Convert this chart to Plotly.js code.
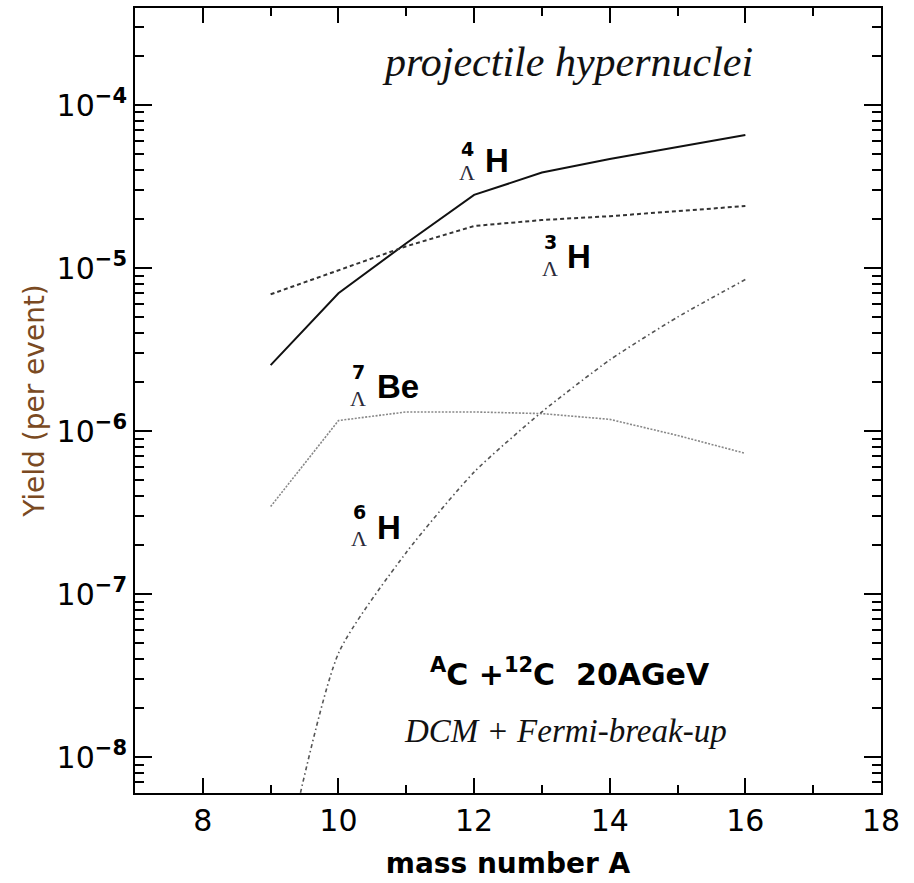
<!DOCTYPE html>
<html>
<head>
<meta charset="utf-8">
<script src="https://cdn.plot.ly/plotly-3.0.1.min.js"></script>
<style>html,body{margin:0;padding:0;background:#fff;}#chart{width:914px;height:883px;}</style>
</head>
<body>
<div id="chart"></div>
<script>
// ---- data ----
const massA = [9, 10, 11, 12, 13, 14, 15, 16];
const yield4LH = [2.54e-6, 7.0e-6, 1.42e-5, 2.81e-5, 3.85e-5, 4.67e-5, 5.52e-5, 6.55e-5];
const yield3LH = [6.9e-6, 9.7e-6, 1.36e-5, 1.81e-5, 1.97e-5, 2.08e-5, 2.24e-5, 2.40e-5];
const yield7LBe = [3.44e-7, 1.16e-6, 1.31e-6, 1.31e-6, 1.28e-6, 1.18e-6, 9.4e-7, 7.3e-7];
const yield6LH = [9.0e-10, 4.33e-8, 1.8e-7, 5.6e-7, 1.31e-6, 2.73e-6, 5.0e-6, 8.5e-6];

const xTickVals = [8, 10, 12, 14, 16, 18];
const xMinorVals = [9, 11, 13, 15, 17];
const yTickVals = [1e-8, 1e-7, 1e-6, 1e-5, 1e-4];
const yTickText = ['10<sup><b>−8</b></sup>', '10<sup><b>−7</b></sup>', '10<sup><b>−6</b></sup>', '10<sup><b>−5</b></sup>', '10<sup><b>−4</b></sup>'];

// minor ticks 2..9 x 10^n
const yMinorVals = [];
for (let e = -9; e <= -4; e++) for (let m = 2; m <= 9; m++) yMinorVals.push(m * Math.pow(10, e));

// ---- layout helpers (pixel -> paper) ----
const L = 135, R = 881, T = 8, B = 793;
const px = x => (x - L) / (R - L);
const py = y => (B - y) / (B - T);

const sans = 'DejaVu Sans, Arial, sans-serif';
const arial = 'Liberation Sans, Arial, sans-serif';
const serif = 'Liberation Serif, Times New Roman, serif';

const traces = [
  {x: massA, y: yield4LH, mode: 'lines', name: '4ΛH', line: {color: '#111', width: 2, dash: 'solid'}},
  {x: massA, y: yield3LH, mode: 'lines', name: '3ΛH', line: {color: '#333', width: 2, dash: '4px,3px'}},
  {x: massA, y: yield7LBe, mode: 'lines', name: '7ΛBe', line: {color: '#888', width: 1.6, dash: '2px,1.5px'}},
  {x: massA, y: yield6LH, mode: 'lines', name: '6ΛH', line: {color: '#555', width: 1.6, dash: '4px,3px,1.5px,3px', shape: 'spline', smoothing: 0.6}}
];

function label(text, x, y, font, opts) {
  return Object.assign({
    text: text, xref: 'paper', yref: 'paper', x: px(x), y: py(y),
    xanchor: 'center', yanchor: 'middle', showarrow: false, font: font
  }, opts || {});
}
const lam = (x, y) => label('Λ', x, y, {family: serif, size: 22, color: '#2a2a3a'});
const sup = (t, x, y) => label('<b>' + t + '</b>', x, y, {family: sans, size: 19, color: '#000'});
const big = (t, x, y) => label('<b>' + t + '</b>', x, y, {family: arial, size: 33, color: '#000'});

const annotations = [
  label('<i>projectile hypernuclei</i>', 567, 62, {family: serif, size: 42, color: '#111'}),
  sup('4', 467, 149), lam(467, 173), big('H', 497, 161),
  sup('3', 550, 242), lam(550, 268), big('H', 579, 256),
  sup('7', 358, 372), lam(358, 398), big('Be', 398, 386),
  sup('6', 359, 512), lam(359, 538), big('H', 389, 527),
  label('<b><sup>A</sup>C +<sup>12</sup>C  20AGeV</b>', 570, 672, {family: sans, size: 30, color: '#000'}),
  label('<i>DCM + Fermi-break-up</i>', 565, 731, {family: serif, size: 33, color: '#111'})
];

const axisCommon = {
  showline: true, linecolor: '#000', linewidth: 2, mirror: 'allticks',
  ticks: 'inside', tickcolor: '#000', tickwidth: 2,
  showgrid: false, zeroline: false,
  tickfont: {family: sans, size: 30, color: '#000'}
};

const layout = {
  width: 914, height: 883,
  margin: {l: L, r: 914 - R, t: T, b: 883 - B},
  paper_bgcolor: '#fff', plot_bgcolor: '#fff',
  showlegend: false,
  xaxis: Object.assign({}, axisCommon, {
    range: [7, 18], tickmode: 'array', tickvals: xTickVals, ticklen: 15,
    minor: {tickmode: 'array', tickvals: xMinorVals, ticks: 'inside', ticklen: 8, tickwidth: 2, tickcolor: '#000', showgrid: false},
    title: {text: '<b>mass number A</b>', font: {family: sans, size: 28, color: '#000'}, standoff: 16}
  }),
  yaxis: Object.assign({}, axisCommon, {
    type: 'log', range: [-8.22, -3.405], tickmode: 'array', tickvals: yTickVals, ticktext: yTickText, ticklen: 17,
    minor: {tickmode: 'array', tickvals: yMinorVals, ticks: 'inside', ticklen: 9, tickwidth: 2, tickcolor: '#000', showgrid: false},
    title: {text: 'Yield (per event)', font: {family: sans, size: 28, color: '#7a4a22'}, standoff: 4}
  }),
  annotations: annotations
};

Plotly.newPlot('chart', traces, layout, {displayModeBar: false});
</script>
</body>
</html>
